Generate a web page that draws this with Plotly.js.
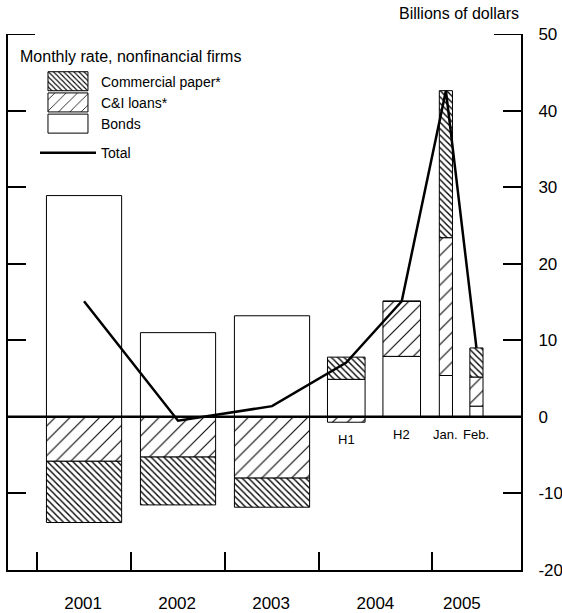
<!DOCTYPE html>
<html>
<head>
<meta charset="utf-8">
<script src="https://cdn.plot.ly/plotly-3.0.1.min.js"></script>
<style>html,body{margin:0;padding:0;background:#fff;}#chart{width:562px;height:613px;}</style>
</head>
<body>
<div id="chart"></div>
<script>
// Periods and their labels
var periods = ["2001", "2002", "2003", "2004 H1", "2004 H2", "2005 Jan.", "2005 Feb."];
var subLabels = ["", "", "", "H1", "H2", "Jan.", "Feb."];
var yearLabels = ["2001", "2002", "2003", "2004", "2005"];

// Series values (billions of dollars, monthly rate)
var bonds = [28.9, 11.0, 13.2, 4.9, 7.9, 5.4, 1.4];
var ciLoans = [-5.8, -5.25, -8.0, -0.7, 7.2, 18.0, 3.8];
var commercialPaper = [-8.0, -6.25, -3.8, 2.9, 0, 19.2, 3.8];
var total = [15.1, -0.5, 1.4, 7.1, 15.1, 42.6, 9.0];

// Axis ticks
var yTickVals = [-20, -10, 0, 10, 20, 30, 40, 50];
var yTickText = ["-20", "-10", "0", "10", "20", "30", "40", "50"];

// Layout positions along the x axis (one unit = one year slot)
var barCenters = [0.5, 1.5, 2.5, 3.29, 3.88, 4.35, 4.675];
var barWidths = [0.8, 0.8, 0.8, 0.4, 0.4, 0.14, 0.14];
var yearLabelPos = [0.49, 1.49, 2.49, 3.6, 4.52];
var yearBoundaries = [0, 1, 2, 3, 4.2];

var FONT = "Liberation Sans, Arial, Helvetica, sans-serif";
var barLine = {color: "black", width: 1};

var traces = [
  {
    type: "bar", name: "Bonds", x: barCenters, y: bonds, width: barWidths,
    marker: {color: "white", line: barLine},
    legendgroup: "g1", legendrank: 3
  },
  {
    type: "bar", name: "C&I loans*", x: barCenters, y: ciLoans, width: barWidths,
    marker: {color: "white", line: barLine,
      pattern: {shape: "/", fgcolor: "black", bgcolor: "white", size: 10.5, solidity: 0.1}},
    legendgroup: "g1", legendrank: 2
  },
  {
    type: "bar", name: "Commercial paper*", x: barCenters, y: commercialPaper, width: barWidths,
    marker: {color: "white", line: barLine,
      pattern: {shape: "\\", fgcolor: "black", bgcolor: "white", size: 4.5, solidity: 0.3}},
    legendgroup: "g1", legendrank: 1
  },
  {
    type: "scatter", mode: "lines", name: "Total",
    x: barCenters, y: total,
    line: {color: "black", width: 2.5},
    legendgroup: "g2", legendrank: 4, hoverinfo: "skip"
  }
];

var annotations = [];
for (var i = 0; i < subLabels.length; i++) {
  if (!subLabels[i]) continue;
  annotations.push({
    x: barCenters[i], y: (subLabels[i] === "H1" ? -2.9 : -2.3), xref: "x", yref: "y",
    text: subLabels[i], showarrow: false, xanchor: "center", yanchor: "middle",
    font: {family: FONT, size: 13, color: "#000000"}
  });
}
annotations.push({
  x: 1, y: 1, xref: "paper", yref: "paper", yshift: 21,
  text: "Billions of dollars", showarrow: false, xanchor: "right", yanchor: "middle",
  font: {family: FONT, size: 16, color: "black"}
});
annotations.push({
  x: 0.0234, y: 0.9577, xref: "paper", yref: "paper", xshift: -2,
  text: "Monthly rate, nonfinancial firms", showarrow: false, xanchor: "left", yanchor: "middle",
  font: {family: FONT, size: 16, color: "black"}
});

var layout = {
  width: 562, height: 613,
  margin: {l: 8, r: 41, t: 34, b: 43},
  paper_bgcolor: "white", plot_bgcolor: "white",
  barmode: "relative",
  showlegend: true,
  legend: {
    xref: "paper", yref: "paper",
    x: 0.0526, y: 0.941, xanchor: "left", yanchor: "top",
    bgcolor: "rgba(0,0,0,0)",
    font: {family: FONT, size: 14, color: "black"},
    traceorder: "grouped",
    tracegroupgap: 8,
    itemwidth: 56
  },
  xaxis: {
    range: [-0.309, 5.149],
    showgrid: false, zeroline: false,
    showline: true, linecolor: "black", linewidth: 2,
    tickmode: "array", tickvals: yearLabelPos, ticktext: yearLabels,
    ticks: "", ticklabelstandoff: 17,
    tickfont: {family: FONT, size: 17, color: "black"},
    minor: {tickmode: "array", tickvals: yearBoundaries, ticks: "inside",
      ticklen: 18, tickwidth: 2, tickcolor: "black", showgrid: false}
  },
  yaxis: {
    range: [-20, 50], side: "right",
    showgrid: false, zeroline: false,
    showline: true, mirror: "ticks", linecolor: "black", linewidth: 2,
    ticks: "inside", ticklen: 18, tickwidth: 2, tickcolor: "black",
    tickmode: "array", tickvals: yTickVals, ticktext: yTickText,
    ticklabelstandoff: 12,
    tickfont: {family: FONT, size: 17, color: "black"}
  },
  shapes: [
    {type: "line", xref: "paper", yref: "y", x0: 0, x1: 1, y0: 0, y1: 0,
      line: {color: "black", width: 2.5}, layer: "above"},
    {type: "line", xref: "paper", yref: "y", xsizemode: "pixel", xanchor: 0,
      x0: 0, x1: 27, y0: 50, y1: 50, line: {color: "black", width: 2}},
    {type: "line", xref: "paper", yref: "y", xsizemode: "pixel", xanchor: 1,
      x0: -27, x1: 0, y0: 50, y1: 50, line: {color: "black", width: 2}}
  ],
  annotations: annotations
};

var gdEl = document.getElementById("chart");

// enlarge the legend swatches of the bar series to match the original key boxes
function enlargeSwatches() {
  var paths = gdEl.querySelectorAll(".legend .legendpoints path");
  for (var k = 0; k < paths.length; k++) {
    var d = paths[k].getAttribute("d") || "";
    if (/^M6,6H-6V-6H6Z$/.test(d.replace(/\s/g, ""))) {
      paths[k].setAttribute("d", "M20,9.5H-20V-9.5H20Z");
    }
  }
}

Plotly.newPlot(gdEl, traces, layout, {displayModeBar: false, staticPlot: true}).then(function () {
  enlargeSwatches();
  gdEl.on("plotly_afterplot", enlargeSwatches);
  setTimeout(enlargeSwatches, 50);
});
</script>
</body>
</html>
